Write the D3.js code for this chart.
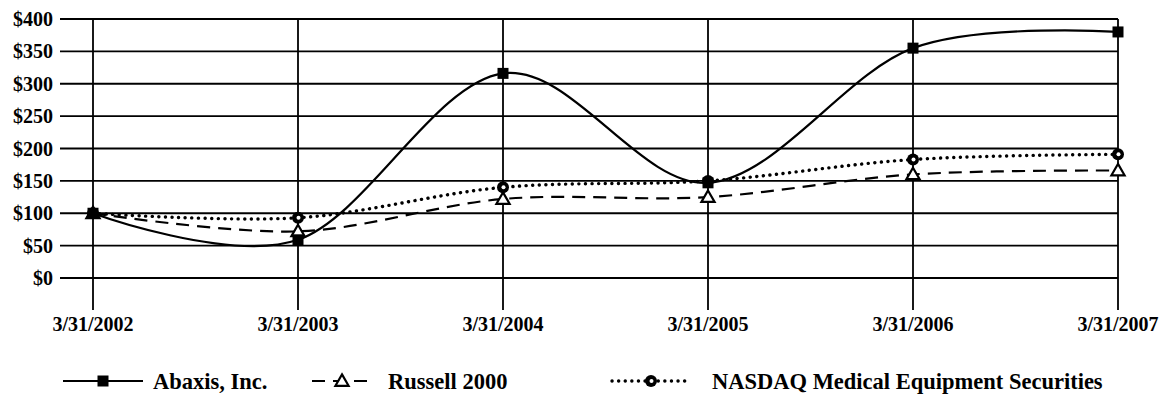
<!DOCTYPE html>
<html>
<head>
<meta charset="utf-8">
<script src="https://cdn.jsdelivr.net/npm/d3@7"></script>
<style>
  body { margin: 0; background: #fff; }
  svg text { font-family: "Liberation Serif", "Times New Roman", serif; font-weight: bold; font-size: 20px; fill: #000; }
  svg .legend text { font-size: 22.5px; }
</style>
</head>
<body>
<svg id="chart" width="1164" height="400"></svg>
<script>
const dates = ['3/31/2002', '3/31/2003', '3/31/2004', '3/31/2005', '3/31/2006', '3/31/2007']
const abaxis = [100, 59, 316, 147, 355, 380]
const russell = [100, 72, 122, 125, 160, 166]
const nasdaq = [100, 93, 140, 150, 183, 191]
const yTicks = [0, 50, 100, 150, 200, 250, 300, 350, 400]

const series = [
  { name: 'Abaxis, Inc.', values: abaxis, dash: null, marker: 'square' },
  { name: 'Russell 2000', values: russell, dash: '13,8', marker: 'triangle' },
  { name: 'NASDAQ Medical Equipment Securities', values: nasdaq, dash: '0.1,6.5', marker: 'circle' }
]

const svg = d3.select('#chart')

const x = d3.scalePoint().domain(dates).range([93, 1118])
const y = d3.scaleLinear().domain([0, 400]).range([278, 19])

// horizontal grid
svg.append('g')
  .selectAll('line')
  .data(yTicks)
  .enter()
  .append('line')
  .attr('x1', 60)
  .attr('x2', 1118)
  .attr('y1', d => y(d))
  .attr('y2', d => y(d))
  .attr('stroke', '#000')
  .attr('stroke-width', 1.8)

// vertical grid
svg.append('g')
  .selectAll('line')
  .data(dates)
  .enter()
  .append('line')
  .attr('x1', d => x(d))
  .attr('x2', d => x(d))
  .attr('y1', y(400))
  .attr('y2', 310)
  .attr('stroke', '#000')
  .attr('stroke-width', 1.8)

// y labels
svg.append('g')
  .selectAll('text')
  .data(yTicks)
  .enter()
  .append('text')
  .attr('x', 53)
  .attr('y', d => y(d))
  .attr('dy', '0.35em')
  .attr('text-anchor', 'end')
  .text(d => '$' + d)

// x labels
svg.append('g')
  .selectAll('text')
  .data(dates)
  .enter()
  .append('text')
  .attr('x', d => x(d))
  .attr('y', 331)
  .attr('text-anchor', 'middle')
  .text(d => d)

const line = d3.line()
  .x((d, i) => x(dates[i]))
  .y(d => y(d))
  .curve(d3.curveCatmullRom.alpha(0))

function drawMarker(g, type, cx, cy) {
  if (type === 'square') {
    g.append('rect')
      .attr('x', cx - 5.5).attr('y', cy - 5.5)
      .attr('width', 11).attr('height', 11)
      .attr('fill', '#000')
  } else if (type === 'triangle') {
    g.append('path')
      .attr('d', d3.symbol(d3.symbolTriangle, 75)())
      .attr('transform', 'translate(' + cx + ',' + (cy + 1) + ')')
      .attr('fill', '#fff')
      .attr('stroke', '#000')
      .attr('stroke-width', 2.2)
  } else {
    g.append('circle')
      .attr('cx', cx).attr('cy', cy).attr('r', 6)
      .attr('fill', '#000')
    g.append('circle')
      .attr('cx', cx + 0.5).attr('cy', cy).attr('r', 2)
      .attr('fill', '#fff')
  }
}

// series (draw bottom ones first)
series.slice().reverse().forEach(s => {
  const g = svg.append('g')
  g.append('path')
    .datum(s.values)
    .attr('d', line)
    .attr('fill', 'none')
    .attr('stroke', '#000')
    .attr('stroke-width', s.marker === 'circle' ? 3.4 : 2.2)
    .attr('stroke-linecap', s.marker === 'circle' ? 'round' : 'butt')
    .attr('stroke-dasharray', s.dash)
  s.values.forEach((v, i) => drawMarker(g, s.marker, x(dates[i]), y(v)))
})

// legend
const legendItems = [
  { s: series[0], x0: 63, x1: 143, tx: 153 },
  { s: series[1], x0: 312, x1: 372, tx: 388 },
  { s: series[2], x0: 612, x1: 690, tx: 712 }
]
const legend = svg.append('g').attr('class', 'legend')
legendItems.forEach(it => {
  const ly = 381
  legend.append('line')
    .attr('x1', it.x0).attr('x2', it.x1)
    .attr('y1', ly).attr('y2', ly)
    .attr('stroke', '#000')
    .attr('stroke-width', it.s.marker === 'circle' ? 3.4 : 2.2)
    .attr('stroke-linecap', it.s.marker === 'circle' ? 'round' : 'butt')
    .attr('stroke-dasharray', it.s.dash)
  drawMarker(legend, it.s.marker, (it.x0 + it.x1) / 2, ly)
  legend.append('text')
    .attr('x', it.tx)
    .attr('y', ly)
    .attr('dy', '0.35em')
    .text(it.s.name)
})
</script>
</body>
</html>
